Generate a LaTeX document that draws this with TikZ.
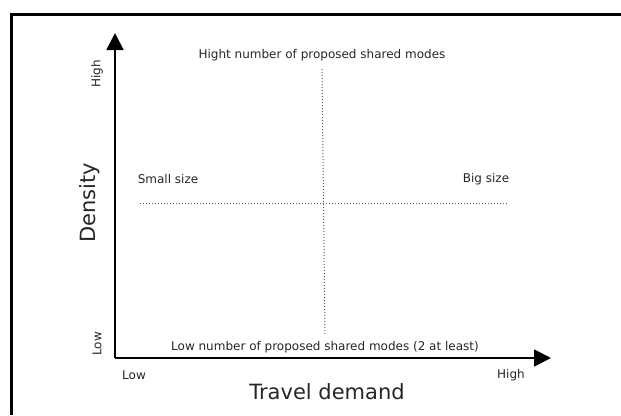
\documentclass[tikz,border=0pt]{standalone}
\usepackage{fontspec}
\setmainfont{DejaVu Sans}
\usetikzlibrary{arrows.meta}

\begin{document}
\begin{tikzpicture}[x=1pt,y=-1pt,
  every node/.style={text=black!85, inner sep=0pt, font=\fontsize{12}{14}\selectfont},
  big/.style={font=\fontsize{21}{24}\selectfont},
  axis/.style={line width=1.8pt, -{Triangle[length=17pt,width=17pt]}},
  guide/.style={dotted, line width=1pt, black!65}]
\useasboundingbox (0,0) rectangle (621,415);
\draw[line width=3pt] (621,14) -- (11,14) -- (11,415);

\coordinate (O) at (115,358);
\coordinate (ytip) at (115,33);
\coordinate (xtip) at (551,358);
\draw[axis] (O) -- (ytip);
\draw[axis] (O) -- (xtip);

\node (xlow) at (134,375) {Low};
\node (xhigh) at (511,375) {High};
\node[big] (xlabel) at (327,392) {Travel demand};
\node[rotate=90] (ylow) at (97,344) {Low};
\node[rotate=90] (yhigh) at (97,74) {High};
\node[big, rotate=90] (ylabel) at (90,203) {Density};

\node (hight) at (322,55) {Hight number of proposed shared modes};
\node (lown) at (325,347) {Low number of proposed shared modes (2 at least)};
\node (small) at (168,179) {Small size};
\node (bigsz) at (486,179) {Big size};

\coordinate (hl) at (140,203);
\coordinate (hr) at (508,203);
\draw[guide] ([yshift=-8pt]hight.south) -- ([yshift=6pt]lown.north);
\draw[guide] (hl) -- (hr);
\end{tikzpicture}
\end{document}
